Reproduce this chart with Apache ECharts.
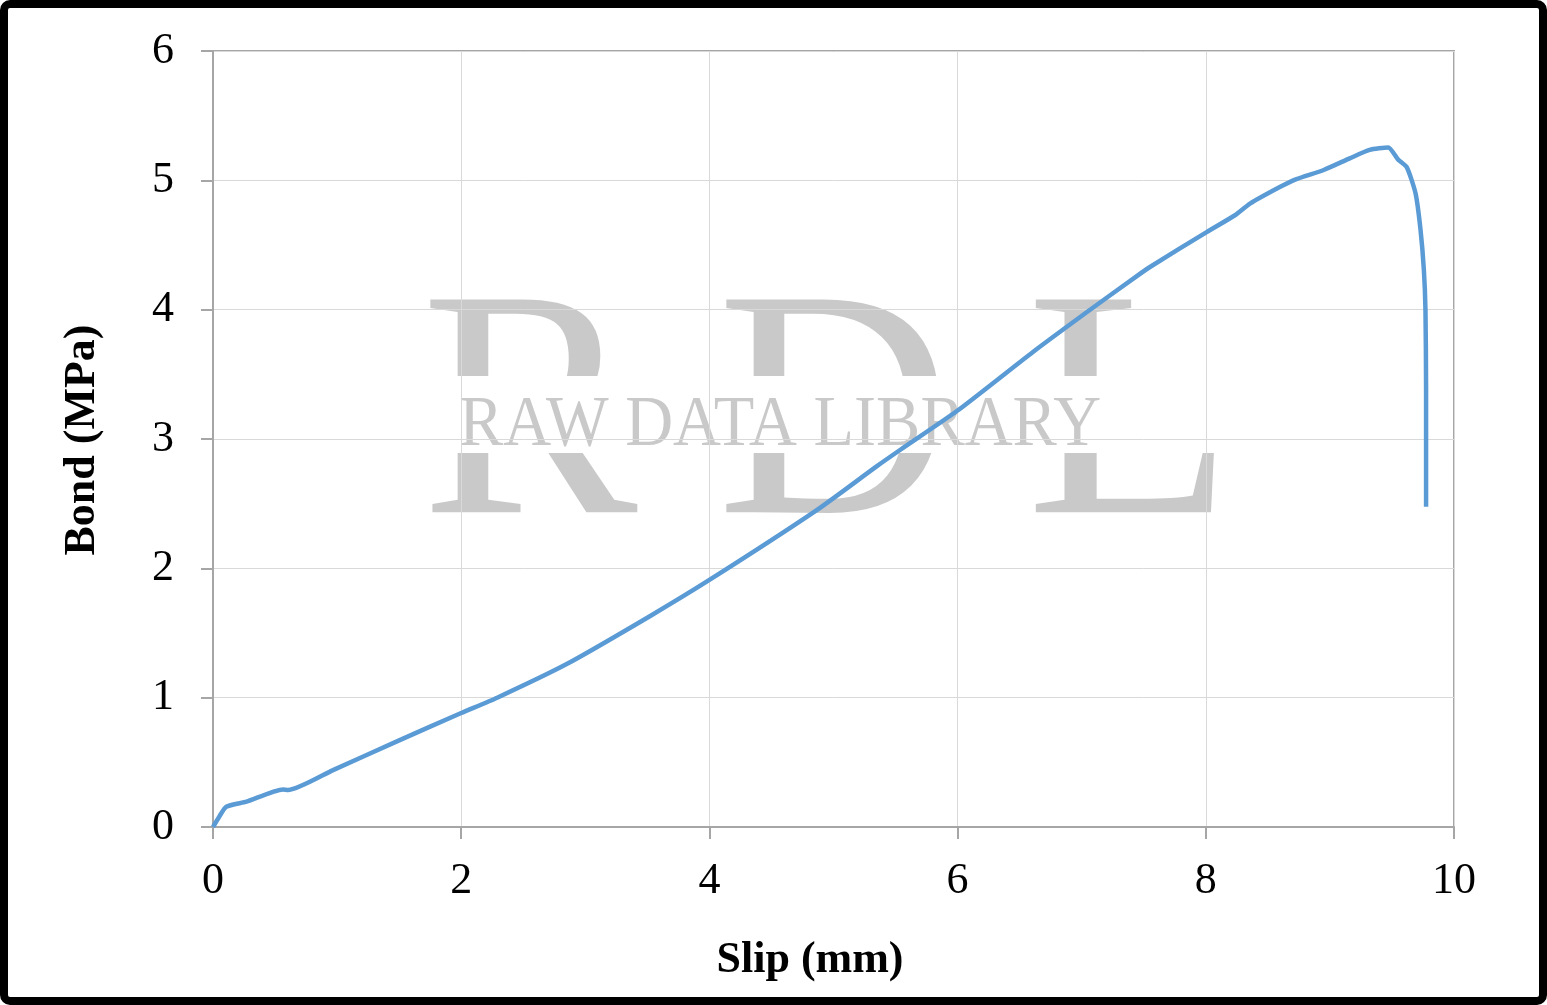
<!DOCTYPE html>
<html>
<head>
<meta charset="utf-8">
<script src="https://cdn.jsdelivr.net/npm/echarts@6/dist/echarts.min.js"></script>
<style>
html,body{margin:0;padding:0;background:#fff;}
#chart{width:1547px;height:1005px;}
</style>
</head>
<body>
<div id="chart"></div>
<script>
// Slip (mm)
var slip = [0, 0.05, 0.107, 0.27, 0.564, 0.604, 0.967, 1.5, 2.0, 2.29, 2.85, 3.52, 4.0, 4.865, 5.35, 5.536, 6.0, 6.61, 7.04, 7.43, 7.55, 8.007, 8.235, 8.356, 8.6, 8.73, 8.95, 9.16, 9.32, 9.47, 9.55, 9.62, 9.69, 9.73, 9.757, 9.77, 9.775, 9.775];
// Bond (MPa)
var bond = [0, 0.08, 0.157, 0.196, 0.29, 0.286, 0.44, 0.67, 0.881, 1.0, 1.26, 1.63, 1.91, 2.45, 2.79, 2.915, 3.22, 3.675, 3.98, 4.25, 4.33, 4.60, 4.73, 4.82, 4.95, 5.01, 5.08, 5.17, 5.235, 5.254, 5.16, 5.10, 4.90, 4.62, 4.31, 4.0, 3.4, 2.477];
var xTitle = 'Slip (mm)';
var yTitle = 'Bond (MPa)';
var watermarkBig = ['R', 'D', 'L'];
var watermarkSmall = 'RAW DATA LIBRARY';

var pts = slip.map(function (s, i) { return [s, bond[i]]; });
var serif = '"Liberation Serif", "Times New Roman", serif';
var axisGrey = '#a6a6a6';

var chart = echarts.init(document.getElementById('chart'), null, {renderer: 'canvas'});
chart.setOption({
  backgroundColor: '#ffffff',
  animation: false,
  grid: {left: 213, right: 93, top: 51, bottom: 178, show: true, borderColor: axisGrey, borderWidth: 2, backgroundColor: 'transparent'},
  xAxis: {
    type: 'value', min: 0, max: 10, interval: 2,
    axisLine: {show: true, onZero: false, lineStyle: {color: axisGrey, width: 2}},
    axisTick: {show: true, length: 12, lineStyle: {color: axisGrey, width: 2}},
    splitLine: {show: true, lineStyle: {color: '#d9d9d9', width: 1}},
    axisLabel: {color: '#000', fontFamily: serif, fontSize: 44, margin: 32}
  },
  yAxis: {
    type: 'value', min: 0, max: 6, interval: 1,
    axisLine: {show: true, lineStyle: {color: axisGrey, width: 2}},
    axisTick: {show: true, length: 12, lineStyle: {color: axisGrey, width: 2}},
    splitLine: {show: true, lineStyle: {color: '#d9d9d9', width: 1}},
    axisLabel: {color: '#000', fontFamily: serif, fontSize: 44, margin: 39}
  },
  graphic: [
    {type: 'text', x: 421, y: 427, scaleX: 1.0, z: -100, silent: true,
     style: {text: watermarkBig[0], font: '325px ' + serif, fill: '#c9c9c9', textAlign: 'left', textVerticalAlign: 'middle'}},
    {type: 'text', x: 717, y: 427, scaleX: 1.0, z: -100, silent: true,
     style: {text: watermarkBig[1], font: '325px ' + serif, fill: '#c9c9c9', textAlign: 'left', textVerticalAlign: 'middle'}},
    {type: 'text', x: 1026, y: 427, scaleX: 1.05, z: -100, silent: true,
     style: {text: watermarkBig[2], font: '325px ' + serif, fill: '#c9c9c9', textAlign: 'left', textVerticalAlign: 'middle'}},
    {type: 'rect', z: -99, silent: true, shape: {x: 415, y: 376, width: 820, height: 77}, style: {fill: '#ffffff'}},
    {type: 'text', x: 459, y: 426, scaleX: 0.935, z: -98, silent: true,
     style: {text: watermarkSmall, font: '71px ' + serif, fill: '#c9c9c9', textAlign: 'left', textVerticalAlign: 'middle'}},
    {type: 'text', x: 810, y: 961, z: 10, silent: true,
     style: {text: xTitle, font: 'bold 44px ' + serif, fill: '#000', textAlign: 'center', textVerticalAlign: 'middle'}},
    {type: 'text', x: 83, y: 440, rotation: Math.PI / 2, z: 10, silent: true,
     style: {text: yTitle, font: 'bold 44px ' + serif, fill: '#000', textAlign: 'center', textVerticalAlign: 'middle'}},
    {type: 'rect', z: 100, silent: true, shape: {x: 4, y: 4, width: 1539, height: 997, r: 6}, style: {fill: 'none', stroke: '#000', lineWidth: 8}}
  ],
  series: [{
    type: 'line', data: pts, showSymbol: false, smooth: 0.2,
    lineStyle: {color: '#5b9bd5', width: 4.5}, z: 5
  }]
});
</script>
</body>
</html>
